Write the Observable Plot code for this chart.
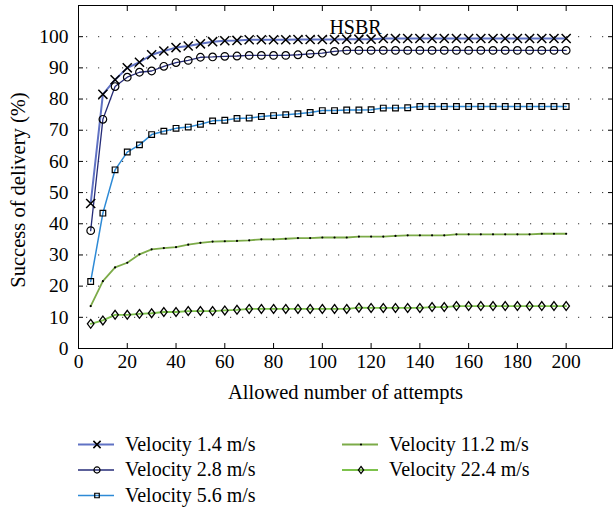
<!DOCTYPE html>
<html><head><meta charset="utf-8">
<script src="https://cdn.jsdelivr.net/npm/d3@7"></script>
<script src="https://cdn.jsdelivr.net/npm/@observablehq/plot@0.6"></script>
<style>
body{margin:0;background:#fff;}
#wrap{position:relative;width:613px;height:509px;font-family:"Liberation Serif",serif;}
#wrap svg{display:block;}
</style></head><body><div id="wrap"></div>
<script>
const attempts = [5,10,15,20,25,30,35,40,45,50,55,60,65,70,75,80,85,90,95,100,105,110,115,120,125,130,135,140,145,150,155,160,165,170,175,180,185,190,195,200];
const v14 = [46.5,81.5,86.2,90,91.8,94.2,95.4,96.5,97,97.7,98.4,98.7,98.8,99,99,99,99,99.1,99.1,99.1,99.1,99.2,99.2,99.2,99.4,99.4,99.4,99.4,99.4,99.4,99.4,99.4,99.4,99.4,99.4,99.4,99.4,99.4,99.4,99.4];
const v28 = [37.8,73.5,84,87,88.6,89,90.5,91.7,92.4,93.4,93.5,93.7,93.8,94,94,94,94,94.2,94.5,94.7,95.3,95.6,95.6,95.6,95.6,95.6,95.6,95.6,95.6,95.6,95.6,95.6,95.6,95.6,95.6,95.6,95.6,95.6,95.6,95.6];
const v56 = [21.5,43.4,57.3,63,65.3,68.6,69.7,70.6,71,71.9,73,73.2,73.8,73.9,74.4,74.7,75,75.3,75.7,76.3,76.3,76.5,76.5,76.6,77.1,77.1,77.2,77.6,77.6,77.6,77.6,77.6,77.6,77.6,77.6,77.6,77.6,77.6,77.6,77.6];
const v112 = [13.6,21.6,26,27.5,30.2,31.8,32.2,32.5,33.3,33.9,34.3,34.4,34.5,34.7,35,35,35.2,35.4,35.4,35.6,35.6,35.6,35.9,35.9,35.9,36.1,36.3,36.3,36.3,36.3,36.6,36.6,36.6,36.6,36.6,36.6,36.6,36.8,36.8,36.8];
const v224 = [7.9,9,10.8,10.8,11.1,11.3,11.7,11.7,12,12,12,12.2,12.4,12.7,12.7,12.7,12.7,12.7,12.7,12.7,12.7,12.7,13.1,13,13,13,13,13,13.3,13.3,13.6,13.6,13.6,13.6,13.6,13.6,13.6,13.6,13.6,13.6];
const seriesNames = ["Velocity 1.4 m/s","Velocity 2.8 m/s","Velocity 5.6 m/s","Velocity 11.2 m/s","Velocity 22.4 m/s"];
const seriesValues = [v14, v28, v56, v112, v224];
const xTicks = [0,20,40,60,80,100,120,140,160,180,200];
const yTicks = [0,10,20,30,40,50,60,70,80,90,100];
const yGrid = [10,20,30,40,50,60,70,80,90,100];
const titleText = "HSBR";
const xLabel = "Allowed number of attempts";
const yLabel = "Success of delivery (%)";

// styles
const lineColors = ["#6072c4","#262c78","#2d8ad6","#7cab48","#7dc24c"];
const lineWidths = [2, 1.3, 1.5, 1.8, 1.8];
const tallDiamond = {draw(ctx, size){ const r = Math.sqrt(size/Math.PI); const w = r*0.75; ctx.moveTo(0,-r); ctx.lineTo(w,0); ctx.lineTo(0,r); ctx.lineTo(-w,0); ctx.closePath(); }};
const symbols = ["times","circle","square","circle",tallDiamond];
const radii = [4.2, 3.8, 3.2, 1.1, 4.4];
const fills = ["none","none","none","#000","none"];
const strokes = ["#000","#000","#000","none","#000"];
const strokeW = [1.5, 1.2, 1.2, 0, 1.3];

const rows = seriesValues.map((vals, i) => attempts.map((a, j) => ({series: seriesNames[i], attempts: a, success: vals[j]})));

const FONT = "Liberation Serif";
const marks = [
  Plot.gridY({ticks: yGrid, stroke: "#333", strokeOpacity: 1, strokeDasharray: "1.2,10.8", strokeDashoffset: -8, strokeWidth: 1})
];
rows.forEach((r, i) => {
  marks.push(Plot.line(r, {x: "attempts", y: "success", stroke: lineColors[i], strokeWidth: lineWidths[i]}));
});
rows.forEach((r, i) => {
  marks.push(Plot.dot(r, {x: "attempts", y: "success", symbol: () => symbols[i], r: radii[i], fill: fills[i], stroke: strokes[i], strokeWidth: strokeW[i]}));
});
marks.push(
  Plot.frame({stroke: "#000", strokeWidth: 1}),
  Plot.axisY({anchor: "left", ticks: yTicks, tickSize: 5, dx: 5, fill: "none", label: null}),
  Plot.axisY({anchor: "right", ticks: yTicks, tickSize: 5, dx: -5, fill: "none", label: null}),
  Plot.axisX({anchor: "bottom", ticks: xTicks, tickSize: 5, dy: -5, fill: "none", label: null}),
  Plot.axisX({anchor: "top", ticks: xTicks, tickSize: 5, dy: 5, fill: "none", label: null}),
  Plot.axisY({anchor: "left", ticks: yTicks, tickSize: 0, tickPadding: 10, label: null, fontSize: 19.5, fill: "#000"}),
  Plot.axisX({anchor: "bottom", ticks: xTicks, tickSize: 0, tickPadding: 6, label: null, fontSize: 19.5, fill: "#000"}),
  Plot.text([titleText], {frameAnchor: "top", text: d => d, dx: 10, dy: 28, lineAnchor: "bottom", fontSize: 20, fill: "#000"}),
  Plot.text([xLabel], {frameAnchor: "bottom", text: d => d, dy: 36, lineAnchor: "top", fontSize: 20.5, fill: "#000"}),
  Plot.text([yLabel], {frameAnchor: "left", text: d => d, dx: -60, dy: 13, rotate: -90, textAnchor: "middle", lineAnchor: "middle", fontSize: 20.5, fill: "#000"})
);

const chart = Plot.plot({
  width: 613, height: 420,
  marginLeft: 78, marginRight: 1, marginTop: 5, marginBottom: 72,
  style: {fontFamily: FONT, background: "#fff", color: "#000"},
  x: {domain: [0, 219]},
  y: {domain: [0, 110]},
  marks
});
const wrap = document.getElementById("wrap");
wrap.appendChild(chart);

// legend
const lg = d3.select(wrap).append("svg").attr("width", 613).attr("height", 89).style("font-family", FONT);
const pos = [[78, 24.5], [78, 50], [78, 75.5], [342, 24.5], [342, 50]];
seriesNames.forEach((name, i) => {
  const [x0, y0] = pos[i];
  const g = lg.append("g").attr("transform", `translate(${x0},${y0})`);
  g.append("line").attr("x1", 0).attr("x2", 36).attr("y1", 0).attr("y2", 0).attr("stroke", lineColors[i]).attr("stroke-width", lineWidths[i]);
  const symType = typeof symbols[i] === "string" ? ({times: d3.symbolTimes, circle: d3.symbolCircle, square: d3.symbolSquare})[symbols[i]] : symbols[i];
  const rr = i === 3 ? 1.1 : radii[i] * 0.8;
  g.append("path").attr("transform", "translate(19,0)").attr("d", d3.symbol(symType, Math.PI * rr * rr)()).attr("fill", fills[i]).attr("stroke", strokes[i]).attr("stroke-width", strokeW[i]);
  g.append("text").attr("x", 47).attr("y", 0).attr("dy", "0.32em").attr("font-size", 20).attr("fill", "#000").text(name);
});
</script></body></html>
